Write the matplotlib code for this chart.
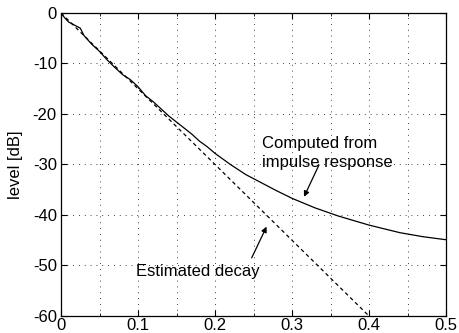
import numpy as np
import matplotlib.pyplot as plt
from matplotlib.ticker import MultipleLocator

plt.rcParams['font.family'] = ['Liberation Sans', 'DejaVu Sans']
plt.rcParams['axes.unicode_minus'] = False

# computed decay curve
t = [0, 0.005, 0.01, 0.02, 0.025, 0.03, 0.04, 0.05, 0.06, 0.07, 0.08, 0.09,
     0.1, 0.11, 0.12, 0.13, 0.14, 0.15, 0.16, 0.17, 0.18, 0.19, 0.2, 0.22,
     0.24, 0.26, 0.28, 0.3, 0.33, 0.36, 0.4, 0.44, 0.47, 0.5]
level = [0, -1.0, -1.8, -2.6, -3.0, -4.5, -6.2, -7.6, -9.3, -10.8, -12.2, -13.2,
         -14.6, -16.4, -17.6, -19.0, -20.4, -21.6, -22.8, -24.0, -25.4, -26.5, -27.8, -30.0,
         -32.0, -33.6, -35.2, -36.7, -38.6, -40.2, -42.0, -43.5, -44.3, -44.9]

# estimated straight-line decay
est_t = [0, 0.4]
est_level = [0, -60]

fig = plt.figure(figsize=(4.59, 3.33), dpi=100)
ax = fig.add_axes([0.1329, 0.0511, 0.8388, 0.9099])

ax.plot(t, level, color='black', linewidth=0.9)
ax.plot(est_t, est_level, color='black', linewidth=0.9, linestyle=(0, (3, 2.5)))

ax.set_xlim(0, 0.5)
ax.set_ylim(-60, 0)
ax.xaxis.set_major_locator(MultipleLocator(0.1))
ax.xaxis.set_minor_locator(MultipleLocator(0.05))
ax.yaxis.set_major_locator(MultipleLocator(10))
ax.xaxis.set_major_formatter(plt.FuncFormatter(lambda v, p: f'{v:g}'))
ax.tick_params(which='both', direction='in', top=True, right=True, labelsize=12)
ax.tick_params(axis='y', pad=3)
ax.tick_params(axis='x', pad=1.5)
ax.tick_params(which='major', length=4)
ax.tick_params(which='minor', length=2)
ax.grid(True, which='both', color='black', linestyle=(0, (1, 6)), linewidth=0.6)
ax.set_ylabel('level [dB]', fontsize=12)
ax.yaxis.set_label_coords(-0.1, 0.5)
for s in ax.spines.values():
    s.set_linewidth(0.9)

arrow = dict(arrowstyle='-|>', color='black', lw=0.9, shrinkA=0, shrinkB=0, mutation_scale=8)

ax.text(0.261, -27.7, 'Computed from\nimpulse response', fontsize=12,
        ha='left', va='center', linespacing=1.3)
ax.annotate('', xy=(0.3156, -36.4), xytext=(0.335, -30.1), arrowprops=arrow)
ax.text(0.0974, -51.2, 'Estimated decay', fontsize=12, ha='left', va='center')
ax.annotate('', xy=(0.267, -42.3), xytext=(0.2476, -48.5), arrowprops=arrow)

fig.savefig('out.png', dpi=100)
